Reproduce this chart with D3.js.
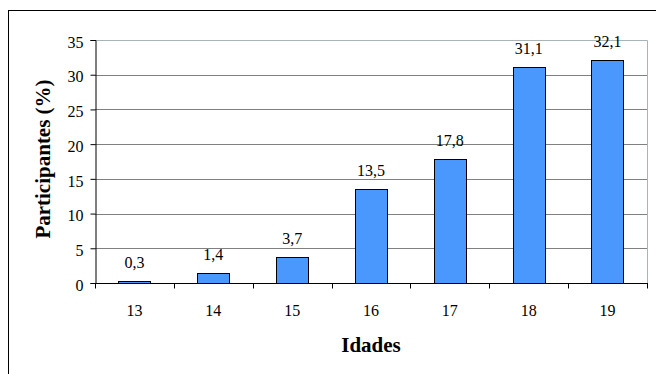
<!DOCTYPE html>
<html>
<head>
<meta charset="utf-8">
<script src="https://cdn.jsdelivr.net/npm/d3@7"></script>
<style>
  html, body { margin: 0; padding: 0; background: #fff; }
  svg { display: block; }
</style>
</head>
<body>
<svg id="chart" width="656" height="374"></svg>
<script>
// Participation by age
const ages = ["13", "14", "15", "16", "17", "18", "19"];
const percentages = [0.3, 1.4, 3.7, 13.5, 17.8, 31.1, 32.1];
const yTicks = [0, 5, 10, 15, 20, 25, 30, 35];
const xTitle = "Idades";
const yTitle = "Participantes (%)";

const FONT = '"Liberation Serif"';
const svg = d3.select("#chart");
const plot = { left: 95, right: 647, top: 40, bottom: 283 };

// Outer frame
svg.append("rect")
  .attr("x", 8.5).attr("y", 10.5)
  .attr("width", 700).attr("height", 400)
  .attr("fill", "#fff").attr("stroke", "#000").attr("stroke-width", 1);

const x = d3.scaleBand()
  .domain(ages)
  .range([plot.left, plot.right])
  .paddingInner(0.59)
  .paddingOuter(0.295);

const xEdges = d3.scaleBand().domain(ages).range([plot.left, plot.right]).padding(0);

const y = d3.scaleLinear().domain([0, 35]).range([plot.bottom, plot.top]);

// Gridlines
svg.append("g")
  .selectAll("line")
  .data(yTicks.filter(t => t > 0 && t < 35))
  .join("line")
  .attr("x1", plot.left).attr("x2", plot.right)
  .attr("y1", d => Math.round(y(d)) + 0.5).attr("y2", d => Math.round(y(d)) + 0.5)
  .attr("stroke", "#808080").attr("stroke-width", 1);

// Plot area border (top and right)
svg.append("path")
  .attr("d", `M${plot.left},${plot.top + 0.5}H${plot.right + 0.5}V${plot.bottom}`)
  .attr("fill", "none").attr("stroke", "#a9b4b4").attr("stroke-width", 1);

// Bars
svg.append("g")
  .selectAll("rect")
  .data(percentages)
  .join("rect")
  .attr("x", (d, i) => Math.round(x(ages[i])) + 0.5)
  .attr("y", d => Math.round(y(d)) + 0.5)
  .attr("width", Math.round(x.bandwidth()))
  .attr("height", d => Math.round(y(0)) - Math.round(y(d)))
  .attr("fill", "#4a98fe").attr("stroke", "#000").attr("stroke-width", 1);

// Value labels
svg.append("g")
  .selectAll("text")
  .data(percentages)
  .join("text")
  .attr("x", (d, i) => x(ages[i]) + x.bandwidth() / 2)
  .attr("y", d => y(d) - 13)
  .attr("text-anchor", "middle")
  .style("font-family", FONT).style("font-size", "16px")
  .text(d => d.toFixed(1).replace(".", ","));

// Y axis
const yAxis = d3.axisLeft(y).tickValues(yTicks).tickSize(5).tickPadding(7);
const gy = svg.append("g")
  .attr("transform", `translate(${plot.left + 0.5},0)`)
  .call(yAxis);
gy.select(".domain").attr("stroke", "#000");
gy.selectAll(".tick line").attr("stroke", "#000");
gy.selectAll(".tick text")
  .style("font-family", FONT).style("font-size", "16px")
  .attr("fill", "#000")
  .attr("dy", "0.45em");

// X axis: labels at band centres, ticks at band edges
const gx = svg.append("g")
  .attr("transform", `translate(0,${plot.bottom + 0.5})`);
gx.append("line")
  .attr("x1", plot.left).attr("x2", plot.right + 1)
  .attr("stroke", "#000");
const edges = ages.map(a => xEdges(a)).concat([plot.right]);
gx.selectAll("line.tick")
  .data(edges)
  .join("line")
  .attr("class", "tick")
  .attr("x1", d => Math.round(d) + 0.5).attr("x2", d => Math.round(d) + 0.5)
  .attr("y1", 0).attr("y2", 5)
  .attr("stroke", "#000");
gx.selectAll("text")
  .data(ages)
  .join("text")
  .attr("x", d => xEdges(d) + xEdges.bandwidth() / 2)
  .attr("y", 32)
  .attr("text-anchor", "middle")
  .style("font-family", FONT).style("font-size", "16px")
  .text(d => d);

// Axis titles
svg.append("text")
  .attr("x", 371).attr("y", 352)
  .attr("text-anchor", "middle")
  .style("font-family", FONT).style("font-size", "21px").style("font-weight", "bold")
  .text(xTitle);

svg.append("text")
  .attr("transform", "translate(50,159) rotate(-90)")
  .attr("text-anchor", "middle")
  .style("font-family", FONT).style("font-size", "21px").style("font-weight", "bold")
  .text(yTitle);
</script>
</body>
</html>
